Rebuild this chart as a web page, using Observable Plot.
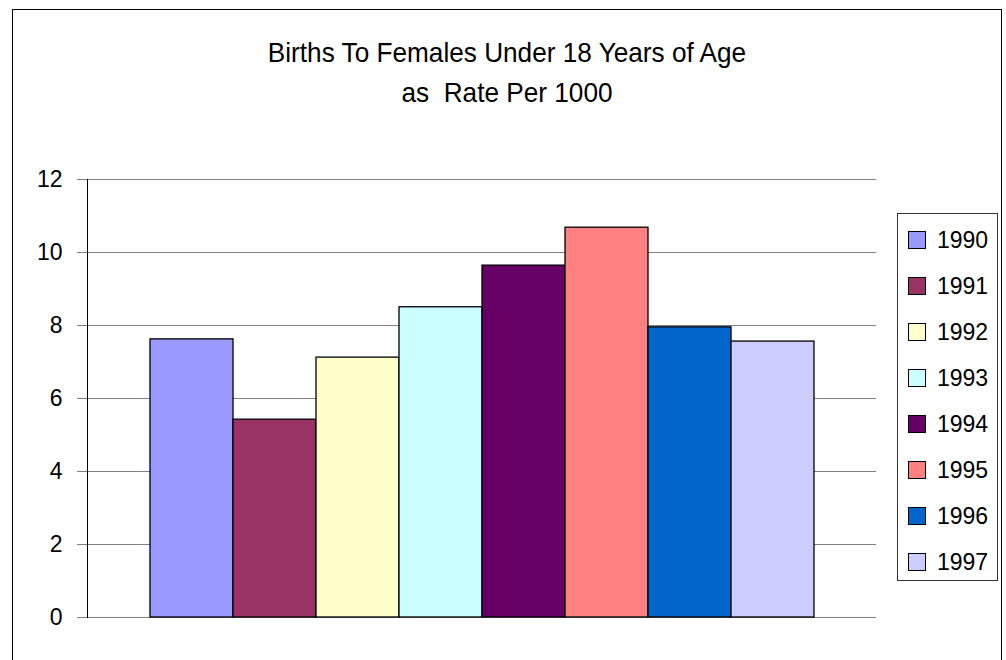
<!DOCTYPE html>
<html>
<head>
<meta charset="utf-8">
<script src="https://cdn.jsdelivr.net/npm/d3@7"></script>
<script src="https://cdn.jsdelivr.net/npm/@observablehq/plot@0.6"></script>
<style>
  html, body { margin: 0; padding: 0; background: #fff; }
  #wrap { position: relative; width: 1006px; height: 660px; overflow: hidden; background: #fff; }
  #border { position: absolute; left: 12px; top: 9px; width: 990px; height: 700px; border: 1px solid #000; box-sizing: border-box; }
  #chart { position: absolute; left: 0; top: 0; }
  #title { position: absolute; left: 0; top: 33px; width: 1014px; text-align: center;
           font-family: "Liberation Sans Narrow", "Liberation Sans", sans-serif; font-size: 28px; line-height: 40px; color: #000;
           transform: scaleX(0.935); transform-origin: 507px 0; }
  #legend { position: absolute; left: 897px; top: 213px; width: 101px; height: 368px; border: 1px solid #333; box-sizing: border-box; background: #fff; }
  .row { position: absolute; left: 0; height: 30px; width: 100px; }
  .sw { position: absolute; left: 10px; top: 6px; width: 18px; height: 18px; border: 1px solid #000; box-sizing: border-box; }
  .lab { position: absolute; left: 39px; top: 0; line-height: 30px; font-family: "Liberation Sans", Arial, sans-serif; font-size: 23px; color: #000; }
</style>
</head>
<body>
<div id="wrap">
  <div id="border"></div>
  <div id="chart"></div>
  <div id="title">Births To Females Under 18 Years of Age<br>as&nbsp; Rate Per 1000</div>
  <div id="legend"></div>
</div>
<script>
const years = ["1990", "1991", "1992", "1993", "1994", "1995", "1996", "1997"];
const rates = [7.62, 5.42, 7.12, 8.50, 9.64, 10.68, 7.95, 7.56];
const colors = ["#9999FF", "#993366", "#FFFFCC", "#CCFFFF", "#660066", "#FF8080", "#0066CC", "#CCCCFF"];
const yTicks = [0, 2, 4, 6, 8, 10, 12];

const data = years.map((y, i) => ({year: y, rate: rates[i]}));

const chart = Plot.plot({
  width: 1006,
  height: 660,
  marginLeft: 87,
  marginRight: 130,
  marginTop: 179,
  marginBottom: 43,
  style: {background: "transparent", fontFamily: "'Liberation Sans', Arial, sans-serif", fontSize: "23px", color: "#000"},
  x: {domain: years, paddingInner: 0, paddingOuter: 0.753, axis: null},
  y: {domain: [0, 12]},
  color: {domain: years, range: colors},
  marks: [
    Plot.gridY(yTicks, {stroke: "#808080", strokeOpacity: 1, strokeWidth: 1}),
    Plot.axisY(yTicks, {tickSize: 10, tickPadding: 15, stroke: "#808080", strokeOpacity: 1, fill: "#000", fontSize: 23, label: null, tickFormat: d => String(d)}),
    Plot.frame({anchor: "left", stroke: "#000"}),
    Plot.barY(data, {x: "year", y: "rate", fill: "year", stroke: "#000", strokeWidth: 1.3})
  ]
});
document.getElementById("chart").appendChild(chart);

const color = chart.scale("color");
const legend = document.getElementById("legend");
color.domain.forEach((yr, i) => {
  const row = document.createElement("div");
  row.className = "row";
  row.style.top = (240 + 46 * i - 15 - 213 - 1) + "px";
  const sw = document.createElement("div");
  sw.className = "sw";
  sw.style.background = color.range[i];
  const lab = document.createElement("div");
  lab.className = "lab";
  lab.textContent = yr;
  row.appendChild(sw);
  row.appendChild(lab);
  legend.appendChild(row);
});
</script>
</body>
</html>
